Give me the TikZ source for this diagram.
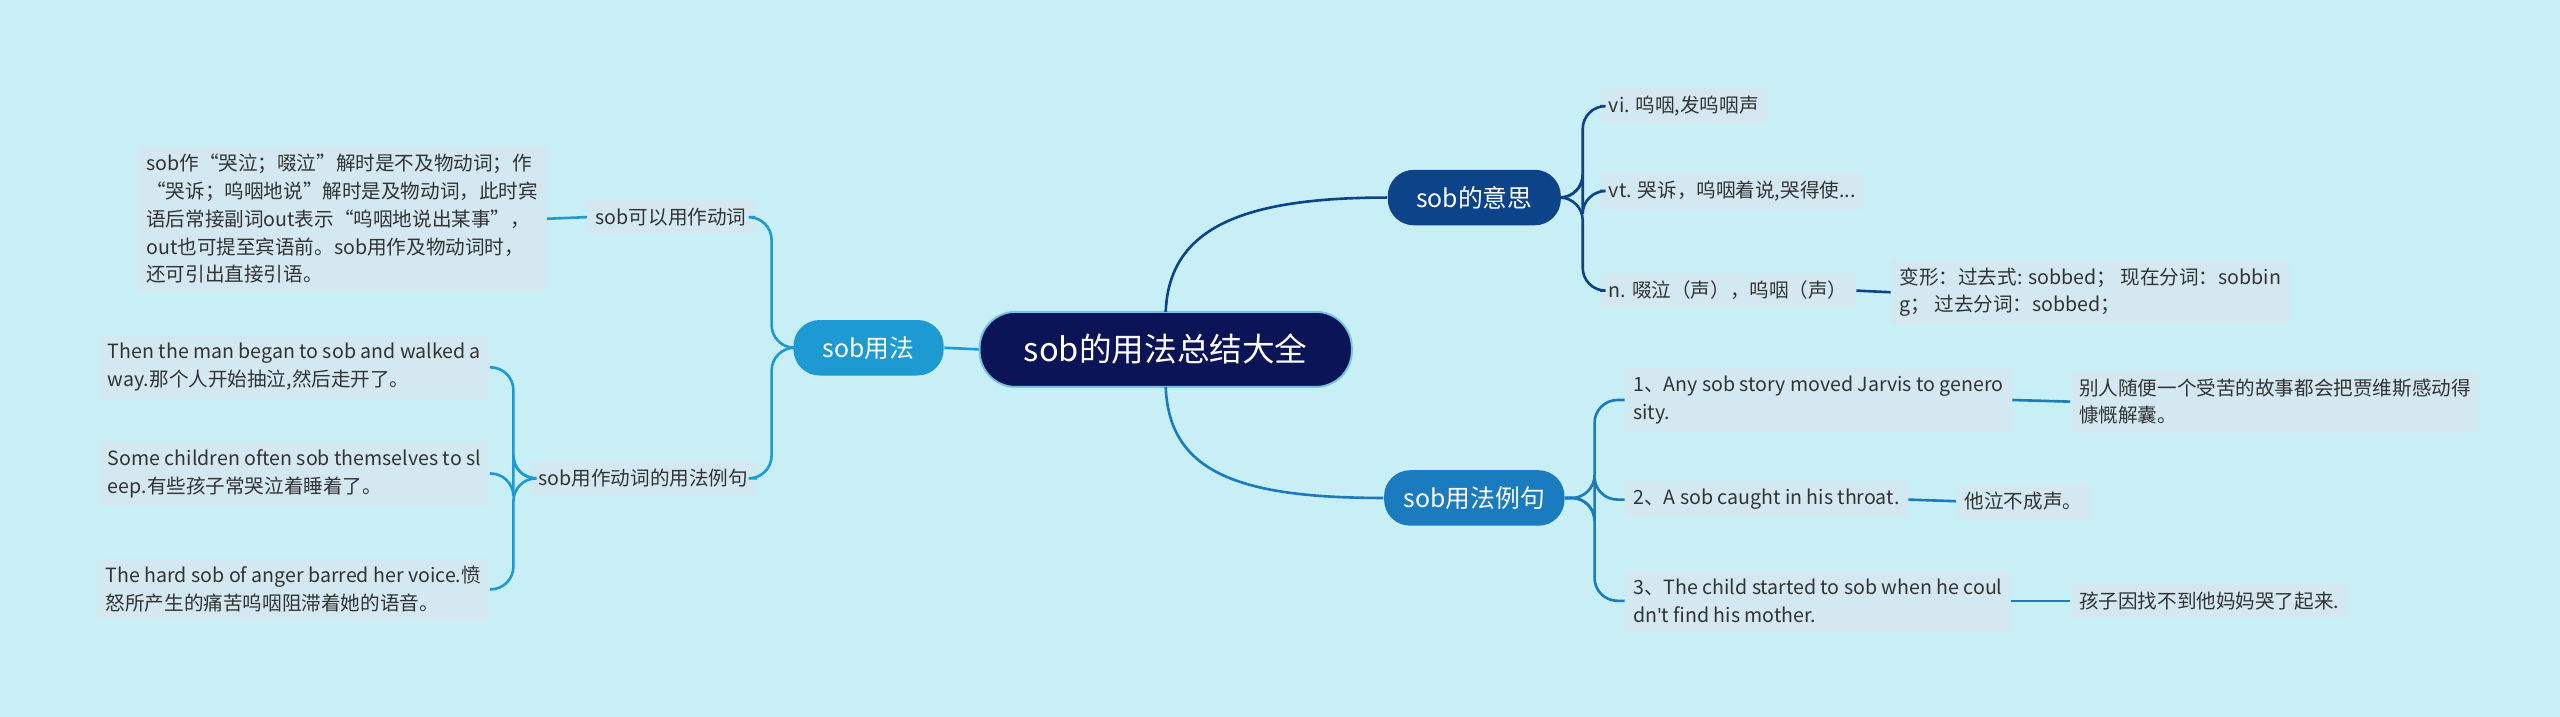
\documentclass[tikz,border=0pt]{standalone}
\usepackage{fontspec}
\setmainfont{Noto Sans CJK SC}
\newfontfamily\latinap{Open Sans}
\begin{document}
\begin{tikzpicture}[x=0.5pt,y=-0.5pt,
  leaf/.style={fill=leafc,inner sep=2.5pt,font=\fontsize{6}{8.5}\selectfont,text=black!80,align=left,anchor=west,rounded corners=1pt},
  lvone/.style={rounded corners=8pt,minimum height=17pt,inner xsep=6pt,text=white,font=\fontsize{7.6}{9}\selectfont},
  ca/.style={draw=c1,line width=0.8pt,rounded corners=7pt},
  cb/.style={draw=c2,line width=0.8pt,rounded corners=7pt},
  cc/.style={draw=c3,line width=0.8pt,rounded corners=7pt}]
\definecolor{bg}{HTML}{C8EFF6}
\definecolor{leafc}{HTML}{D3E8F0}
\definecolor{c1}{HTML}{0D4389}
\definecolor{c2}{HTML}{1A7BBE}
\definecolor{c3}{HTML}{1E9AD2}
\definecolor{rootc}{HTML}{0A1457}
\fill[bg] (0,0) rectangle (1568,439);
\useasboundingbox (0,0) rectangle (1568,439);
% root
\node[fill=rootc,draw=c3!60,line width=0.6pt,rounded corners=11pt,minimum width=114pt,minimum height=23pt,text=white,font=\fontsize{10}{12}\selectfont] (root) at (714,214) {sob的用法总结大全};
\node[lvone,fill=c1,minimum width=53pt] (m) at (903,121) {sob的意思};
\node[lvone,fill=c2,minimum width=53pt] (e) at (903,305) {sob用法例句};
\node[lvone,fill=c3,minimum width=46pt] (u) at (532,213) {sob用法};
% right top leaves
\node[leaf] (m1) at (980,65) {vi. 呜咽,发呜咽声};
\node[leaf] (m2) at (980,117) {vt. 哭诉，呜咽着说,哭得使...};
\node[leaf] (m3) at (980,178) {n. 啜泣（声），呜咽（声）};
\node[leaf] (m4) at (1158,179) {变形：过去式: sobbed；\ 现在分词：sobbin\\g；\ 过去分词：sobbed；};
% examples
\node[leaf] (e1) at (995,245) {1、Any sob story moved Jarvis to genero\\sity.};
\node[leaf] (e1c) at (1268,246) {别人随便一个受苦的故事都会把贾维斯感动得\\慷慨解囊。};
\node[leaf] (e2) at (995,306) {2、A sob caught in his throat.};
\node[leaf] (e2c) at (1198,307) {他泣不成声。};
\node[leaf] (e3) at (995,368) {3、The child started to sob when he coul\\dn{\latinap\char39}t find his mother.};
\node[leaf] (e3c) at (1268,368) {孩子因找不到他妈妈哭了起来.};
% left
\node[leaf,anchor=center] (u1) at (411,133) {sob可以用作动词};
\node[leaf,anchor=east] (u1t) at (335,134) {sob作“哭泣；啜泣”解时是不及物动词；作\\“哭诉；呜咽地说”解时是及物动词，此时宾\\语后常接副词out表示“呜咽地说出某事”，\\out也可提至宾语前。sob用作及物动词时，\\还可引出直接引语。};
\node[leaf,anchor=center] (u2) at (394,293) {sob用作动词的用法例句};
\node[leaf,anchor=east] (u21) at (300,225) {Then the man began to sob and walked a\\way.那个人开始抽泣,然后走开了。};
\node[leaf,anchor=east] (u22) at (300,290) {Some children often sob themselves to sl\\eep.有些孩子常哭泣着睡着了。};
\node[leaf,anchor=east] (u23) at (300,361) {The hard sob of anger barred her voice.愤\\怒所产生的痛苦呜咽阻滞着她的语音。};
% connectors root
\draw[ca,rounded corners=0pt] (714,191) .. controls (716,140) and (760,121) .. (m.west);
\draw[cb,rounded corners=0pt] (714,237) .. controls (716,290) and (760,305) .. (e.west);
\draw[cc] (root.west) -- (u.east);
% meaning
\foreach \t in {m1,m2,m3} \draw[ca] (m.east) -- ++(13,0) |- (\t.west);
\draw[ca] (m3.east) -- (m4.west);
% examples
\foreach \t in {e1,e2,e3} \draw[cb] (e.east) -- ++(18,0) |- (\t.west);
\draw[cb] (e1.east) -- (e1c.west);
\draw[cb] (e2.east) -- (e2c.west);
\draw[cb] (e3.east) -- (e3c.west);
% left
\foreach \t in {u1,u2} \draw[cc] (u.west) -- ++(-13,0) |- (\t.east);
\draw[cc] (u1.west) -- (u1t.east);
\foreach \t in {u21,u22,u23} \draw[cc] (u2.west) -- ++(-10,0) |- (\t.east);
\end{tikzpicture}
\end{document}
